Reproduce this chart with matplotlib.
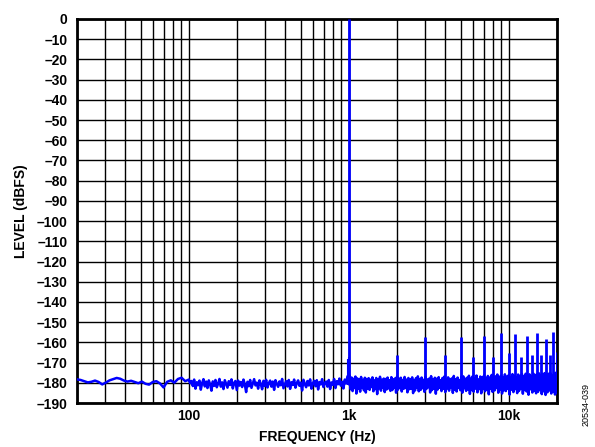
import matplotlib
matplotlib.use("Agg")
import matplotlib.pyplot as plt
import numpy as np
from matplotlib.ticker import FixedLocator, NullFormatter, NullLocator

plt.rcParams['font.family'] = ['Liberation Sans', 'DejaVu Sans']

# noise floor (dBFS)
low_noise = [-178.3, -178.6, -179.2, -179.8, -179.5, -178.9, -179.6, -180.8,
             -179.9, -178.8, -178.2, -177.6, -178.0, -178.9, -179.4, -179.0,
             -179.6, -180.2, -179.4, -180.5, -180.9, -179.6, -179.2, -180.3,
             -182.3, -179.5, -178.8, -179.9, -178.1, -177.5, -179.2, -178.4]

mid_noise = [
    -178.5, -180.2, -179.1, -181.6, -178.4, -182.9, -179.7, -181.2, -178.9, -183.4,
    -180.1, -178.2, -181.8, -179.4, -182.6, -178.8, -180.9, -183.9, -179.3, -181.5,
    -178.6, -182.2, -180.4, -178.1, -181.9, -179.8, -183.1, -178.7, -180.6, -182.4,
    -179.2, -181.1, -178.3, -182.8, -180.0, -179.1, -183.6, -178.9, -181.4, -179.6,
    -182.1, -178.4, -180.8, -184.6, -179.5, -181.7, -178.6, -182.5, -180.3, -178.2,
    -181.3, -179.9, -182.9, -178.8, -180.7, -183.2, -179.0, -181.6, -178.5, -182.3,
    -180.2, -178.9, -181.9, -179.4, -183.5, -178.7, -180.5, -182.0, -179.3, -181.2,
    -178.1, -182.7, -180.9, -179.2, -181.8, -178.6, -183.0, -179.7, -181.1, -178.4,
    -182.4, -180.1, -178.8, -181.5, -179.9, -183.8, -178.5, -180.6, -182.2, -179.1,
    -181.3, -178.3, -182.9, -180.4, -179.0, -181.7, -178.7, -183.3, -179.6, -180.8,
    -178.2, -182.1, -180.0, -179.4, -181.9, -178.6, -183.1, -179.8, -181.0, -178.1,
    -182.6, -179.2, -180.7, -177.9, -181.4, -179.5, -182.8, -178.4, -180.3, -176.8,
]

high_noise = [
    -176.5, -183.2, -177.4, -184.1, -178.0, -182.6, -176.9, -185.3, -177.8, -183.0,
    -178.3, -184.4, -177.1, -182.2, -178.6, -183.7, -177.5, -184.8, -178.1, -182.9,
    -177.7, -183.5, -178.4, -182.1, -177.3, -184.2, -178.8, -183.1, -177.6, -185.6,
    -178.2, -182.7, -177.0, -183.9, -178.5, -182.4, -177.9, -184.6, -178.1, -183.3,
    -177.4, -182.8, -178.7, -184.0, -177.2, -183.6, -178.3, -182.5, -177.8, -184.9,
    -176.9, -183.4, -178.0, -182.3, -177.5, -184.3, -178.6, -183.0, -177.1, -182.6,
    -178.4, -184.7, -177.6, -183.2, -178.2, -182.9, -177.3, -185.1, -178.9, -183.8,
    -177.7, -182.4, -176.8, -184.2, -178.1, -183.5, -177.4, -182.7, -178.5, -184.5,
    -177.0, -183.1, -178.3, -182.2, -177.9, -184.8, -176.7, -183.6, -178.2, -182.9,
    -177.5, -185.4, -178.0, -183.3, -177.2, -182.5, -178.7, -184.1, -177.6, -183.0,
    -176.9, -184.6, -178.4, -182.8, -177.3, -183.9, -178.1, -182.3, -177.8, -185.0,
    -176.6, -183.4, -178.2, -184.3, -177.4, -182.6, -178.6, -183.7, -177.0, -184.9,
    -176.8, -182.7, -178.0, -184.0, -177.5, -183.2, -176.5, -185.5, -177.9, -183.6,
    -176.7, -184.4, -177.7, -182.9, -176.4, -184.7, -178.3, -183.1, -176.9, -185.2,
    -177.2, -182.8, -176.3, -184.2, -177.8, -183.5, -176.6, -185.7, -177.4, -183.0,
    -176.1, -184.5, -177.6, -183.8, -176.8, -182.6, -175.9, -184.9, -177.0, -183.3,
    -176.4, -185.3, -177.3, -183.7, -175.8, -184.1, -176.9, -182.9, -176.2, -185.8,
    -177.1, -183.4, -175.7, -184.6, -176.5, -183.1, -177.2, -185.1, -175.9, -184.0,
    -176.6, -182.8, -175.6, -185.4, -176.8, -183.6, -175.5, -184.3, -176.3, -185.9,
    -175.8, -183.2, -176.7, -184.8, -175.4, -183.9, -176.1, -185.2, -175.7, -184.5,
    -175.3, -183.5, -176.4, -185.6, -175.6, -184.2, -175.2, -186.0, -176.0, -184.7,
    -175.5, -183.8, -175.1, -185.3, -176.2, -184.4, -175.4, -185.8, -175.0, -184.9,
]

fund_freq = 1000
fund_level = 0.0
harm_freqs = [2000, 3000, 4000, 5000, 6000, 7000, 8000, 9000, 10000, 11000,
              12000, 13000, 14000, 15000, 16000, 17000, 18000, 19000, 20000]
harm_levels = [-166.3, -157.3, -166.0, -157.5, -167.0, -156.8, -167.0, -155.5,
               -165.5, -155.8, -167.0, -157.0, -166.0, -155.6, -166.4, -158.5,
               -166.0, -155.0, -165.0]
skirt_freqs = [990, 1010]
skirt_levels = [-168.0, -167.0]

x_major = [100, 1000, 10000]
x_labels = ['100', '1k', '10k']
y_ticks = list(range(0, -200, -10))

fig = plt.figure(figsize=(5.95, 4.47), dpi=100)
ax = fig.add_axes([0.1294, 0.0984, 0.8066, 0.8591])

blue = '#0000ff'
f_low = np.geomspace(20, 100, len(low_noise))
f_mid = np.geomspace(100, 1000, len(mid_noise) + 1)[:-1]
f_high = np.geomspace(1000, 20000, len(high_noise) + 1)[1:]
freqs = np.concatenate([f_low, f_mid, f_high])
noise = np.concatenate([low_noise, mid_noise, high_noise])
ax.plot(freqs, noise, color=blue, lw=1.8, zorder=3)

ax.vlines(fund_freq, -181, fund_level, color=blue, lw=2, zorder=3)
ax.vlines(skirt_freqs, -181, skirt_levels, color=blue, lw=1.5, zorder=3)
ax.vlines(harm_freqs, -180, harm_levels, color=blue, lw=2, zorder=3)

ax.set_xscale('log')
ax.set_xlim(20, 20000)
ax.set_ylim(-190, 0)

minor = [m * 10 ** d for d in range(1, 5) for m in range(2, 10) if 20 <= m * 10 ** d <= 20000]
ax.xaxis.set_major_locator(FixedLocator(x_major))
ax.set_xticklabels(x_labels)
ax.xaxis.set_minor_locator(FixedLocator(minor))
ax.xaxis.set_minor_formatter(NullFormatter())
ax.set_yticks(y_ticks)
ax.set_yticklabels([str(v).replace('-', '\u2013') for v in y_ticks])
ax.yaxis.set_minor_locator(NullLocator())

ax.grid(True, which='both', color='black', lw=1.0, zorder=1)
ax.tick_params(which='both', length=0, labelsize=10)
ax.tick_params(axis='y', pad=7)
ax.tick_params(axis='x', pad=4)
for lab in ax.get_xticklabels() + ax.get_yticklabels():
    lab.set_fontweight('bold')
for sp in ax.spines.values():
    sp.set_linewidth(2)

ax.set_xlabel('FREQUENCY (Hz)', fontsize=10, fontweight='bold', va='center')
ax.xaxis.set_label_coords(0.5, -0.088)
ax.set_ylabel('LEVEL (dBFS)', fontsize=10, fontweight='bold', va='center')
ax.yaxis.set_label_coords(-0.117, 0.5)
fig.text(0.985, 0.095, '20534-039', rotation=90, fontsize=6.5,
         ha='center', va='center')

fig.savefig('out.png', dpi=100)
